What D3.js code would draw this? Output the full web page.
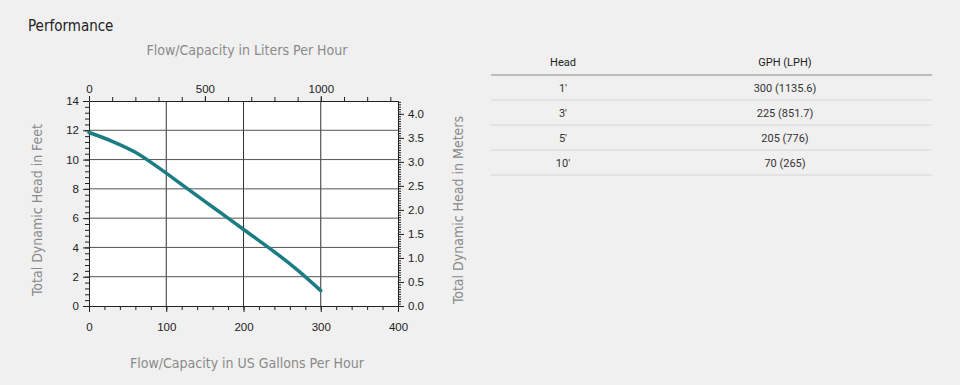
<!DOCTYPE html>
<html>
<head>
<meta charset="utf-8">
<script src="https://cdn.jsdelivr.net/npm/d3@7"></script>
<style>
  html, body { margin: 0; padding: 0; background: #f0f0f0; }
  svg { display: block; font-family: "DejaVu Sans Condensed", "Roboto", sans-serif; }
  .tick text { fill: #222; font-size: 11.5px; }
  .tick line, .domain { stroke: #222; }
  .tbl { font-family: "Roboto", sans-serif; }
</style>
</head>
<body>
<svg id="chart" width="960" height="385"></svg>
<script>
// curve: flow (US gal/h) vs head (ft)
var flowGph = [0, 30, 60, 90, 120, 150, 180, 210, 240, 270, 300];
var headFt  = [11.85, 11.25, 10.5, 9.45, 8.3, 7.15, 6.0, 4.85, 3.7, 2.45, 1.05];

var gphTicks   = [0, 100, 200, 300, 400];
var ftTicks    = [0, 2, 4, 6, 8, 10, 12, 14];
var lphTicks   = [0, 500, 1000];
var meterTicks = [0, 0.5, 1, 1.5, 2, 2.5, 3, 3.5, 4];

// table
var tableHead = ["Head", "GPH (LPH)"];
var headCol = ["1\u2032", "3\u2032", "5\u2032", "10\u2032"];
var gphCol  = ["300 (1135.6)", "225 (851.7)", "205 (776)", "70 (265)"];

var svg = d3.select("#chart");

svg.append("text")
  .attr("x", 28).attr("y", 31)
  .style("font-size", "15px").style("fill", "#222")
  .text("Performance");

var margin = {left: 89, top: 101, right: 398, bottom: 306};

var x = d3.scaleLinear().domain([0, 400]).range([margin.left, margin.right]);
var y = d3.scaleLinear().domain([0, 14]).range([margin.bottom, margin.top]);
// top axis: liters, right axis: meters (secondary)
var xL = d3.scaleLinear().domain([0, 1333]).range([margin.left, margin.right]);
var yM = d3.scaleLinear().domain([0, 14 * 0.3048]).range([margin.bottom, margin.top]);

// plot background
svg.append("rect")
  .attr("x", x(0)).attr("y", y(14))
  .attr("width", x(400) - x(0)).attr("height", y(0) - y(14))
  .attr("fill", "#fff");

// grid
var grid = svg.append("g").attr("stroke", "#333").attr("stroke-width", 1);
grid.selectAll("line.v")
  .data([100, 200, 300])
  .enter().append("line")
    .attr("x1", function(d){ return x(d); })
    .attr("x2", function(d){ return x(d); })
    .attr("y1", y(0)).attr("y2", y(14));
grid.selectAll("line.h")
  .data([2, 4, 6, 8, 10, 12])
  .enter().append("line")
    .attr("x1", x(0)).attr("x2", x(400))
    .attr("y1", function(d){ return y(d); })
    .attr("y2", function(d){ return y(d); })
    .attr("stroke", "#555");

// minor tick axes (no labels)
function minor(g, axis) {
  g.call(axis.tickFormat("")).select(".domain").remove();
}
svg.append("g").attr("transform", "translate(0," + y(0) + ")")
  .call(minor, d3.axisBottom(x).tickValues(d3.range(0, 401, 20)).tickSize(4));
svg.append("g").attr("transform", "translate(0," + y(14) + ")")
  .call(minor, d3.axisTop(xL).tickValues(d3.range(0, 1334, 100)).tickSize(4));
svg.append("g").attr("transform", "translate(" + x(0) + ",0)")
  .call(minor, d3.axisLeft(y).tickValues(d3.range(0, 14.01, 0.4)).tickSize(4));
svg.append("g").attr("transform", "translate(" + x(400) + ",0)")
  .call(minor, d3.axisRight(yM).tickValues(d3.range(0, 4.26, 0.05)).tickSize(3));

// main axes
svg.append("g").attr("transform", "translate(0," + y(0) + ")")
  .call(d3.axisBottom(x).tickValues(gphTicks).tickSizeInner(6).tickSizeOuter(0).tickPadding(11));
svg.append("g").attr("transform", "translate(0," + y(14) + ")")
  .call(d3.axisTop(xL).tickValues(lphTicks).tickFormat(d3.format("d"))
    .tickSizeInner(5).tickSizeOuter(0).tickPadding(3));
svg.append("g").attr("transform", "translate(" + x(0) + ",0)")
  .call(d3.axisLeft(y).tickValues(ftTicks).tickSizeInner(6).tickSizeOuter(0).tickPadding(4));
svg.append("g").attr("transform", "translate(" + x(400) + ",0)")
  .call(d3.axisRight(yM).tickValues(meterTicks).tickFormat(d3.format(".1f"))
    .tickSizeInner(6).tickSizeOuter(0).tickPadding(4));

// the pump curve
var pts = flowGph.map(function(g, i){ return [g, headFt[i]]; });
svg.append("path")
  .datum(pts)
  .attr("fill", "none")
  .attr("stroke", "#1b7c84")
  .attr("stroke-width", 3.5)
  .attr("stroke-linecap", "round")
  .attr("d", d3.line()
    .x(function(d){ return x(d[0]); })
    .y(function(d){ return y(d[1]); })
    .curve(d3.curveCatmullRom));

// axis titles
var titleStyle = function(t) {
  t.style("font-size", "14px").style("fill", "#8a8a8a").attr("text-anchor", "middle");
};
svg.append("text").attr("x", 247).attr("y", 55).call(titleStyle)
  .text("Flow/Capacity in Liters Per Hour");
svg.append("text").attr("x", 247).attr("y", 368).call(titleStyle)
  .text("Flow/Capacity in US Gallons Per Hour");
svg.append("text").attr("transform", "translate(42,210) rotate(-90)").call(titleStyle)
  .text("Total Dynamic Head in Feet");
svg.append("text").attr("transform", "translate(463,210) rotate(-90)").call(titleStyle)
  .text("Total Dynamic Head in Meters");

// table
var tx0 = 491, tx1 = 932;
var colX = [563, 785];
var rowY = d3.scaleBand().domain(d3.range(headCol.length)).range([75, 175]);
var tbl = svg.append("g").attr("class", "tbl");

tbl.selectAll("text.th")
  .data(tableHead)
  .enter().append("text")
    .attr("x", function(d, i){ return colX[i]; })
    .attr("y", 66)
    .attr("text-anchor", "middle")
    .style("font-size", "11px").style("fill", "#222")
    .text(function(d){ return d; });

tbl.append("line")
  .attr("x1", tx0).attr("x2", tx1).attr("y1", 75).attr("y2", 75)
  .attr("stroke", "#888").attr("stroke-width", 1);

var rows = tbl.selectAll("g.row")
  .data(headCol)
  .enter().append("g")
    .attr("transform", function(d, i){ return "translate(0," + rowY(i) + ")"; });
rows.append("line")
  .attr("x1", tx0).attr("x2", tx1)
  .attr("y1", rowY.bandwidth()).attr("y2", rowY.bandwidth())
  .attr("stroke", "#d6d6d6");
rows.append("text")
  .attr("x", colX[0]).attr("y", rowY.bandwidth() / 2 + 4)
  .attr("text-anchor", "middle")
  .style("font-size", "11px").style("fill", "#333")
  .text(function(d){ return d; });
rows.append("text")
  .attr("x", colX[1]).attr("y", rowY.bandwidth() / 2 + 4)
  .attr("text-anchor", "middle")
  .style("font-size", "11px").style("fill", "#333")
  .text(function(d, i){ return gphCol[i]; });
</script>
</body>
</html>
